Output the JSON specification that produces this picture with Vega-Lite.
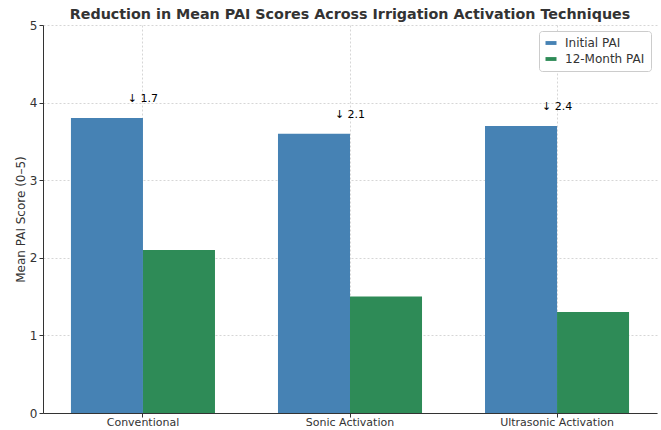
{
  "$schema": "https://vega.github.io/schema/vega-lite/v6.json",
  "width": 614,
  "height": 388,
  "autosize": {"type": "none"},
  "padding": {"left": 43, "top": 25, "right": 4, "bottom": 17},
  "background": "white",
  "config": {
    "view": {"stroke": null},
    "font": "DejaVu Sans",
    "axis": {
      "labelFont": "DejaVu Sans",
      "titleFont": "DejaVu Sans",
      "labelColor": "#333333",
      "titleColor": "#333333",
      "domainColor": "#333333",
      "tickColor": "#333333",
      "gridColor": "#cccccc",
      "gridDash": [2, 2],
      "gridWidth": 0.8,
      "tickSize": 4,
      "titleFontWeight": "normal"
    }
  },
  "title": {
    "text": "Reduction in Mean PAI Scores Across Irrigation Activation Techniques",
    "font": "DejaVu Sans",
    "fontSize": 14.3,
    "fontWeight": "bold",
    "color": "#333333",
    "anchor": "middle",
    "offset": -3
  },
  "data": {
    "values": [
      {"technique": "Conventional", "Initial PAI": 3.8, "12-Month PAI": 2.1, "label": "↓ 1.7"},
      {"technique": "Sonic Activation", "Initial PAI": 3.6, "12-Month PAI": 1.5, "label": "↓ 2.1"},
      {"technique": "Ultrasonic Activation", "Initial PAI": 3.7, "12-Month PAI": 1.3, "label": "↓ 2.4"}
    ]
  },
  "layer": [
    {
      "transform": [{"fold": ["Initial PAI", "12-Month PAI"], "as": ["measure", "value"]}],
      "mark": {"type": "bar"},
      "encoding": {
        "x": {
          "field": "technique",
          "type": "nominal",
          "sort": null,
          "scale": {"paddingInner": 0.3043, "paddingOuter": 0.135},
          "axis": {
            "title": null,
            "labelAngle": 0,
            "labelFontSize": 11,
            "labelPadding": -1,
            "grid": true,
            "bandPosition": 0.5
          }
        },
        "xOffset": {
          "field": "measure",
          "type": "nominal",
          "sort": ["Initial PAI", "12-Month PAI"],
          "scale": {"paddingInner": 0, "paddingOuter": 0}
        },
        "y": {
          "field": "value",
          "type": "quantitative",
          "scale": {"domain": [0, 5]},
          "axis": {
            "title": "Mean PAI Score (0–5)",
            "titleFontSize": 12,
            "labelFontSize": 12,
            "tickCount": 5,
            "grid": true,
            "titlePadding": 2
          }
        },
        "color": {
          "field": "measure",
          "type": "nominal",
          "sort": ["Initial PAI", "12-Month PAI"],
          "scale": {"domain": ["Initial PAI", "12-Month PAI"], "range": ["#4682b4", "#2e8b57"]},
          "legend": {
            "title": null,
            "orient": "top-right",
            "offset": 6,
            "padding": 6,
            "strokeColor": "#cccccc",
            "fillColor": "white",
            "cornerRadius": 3,
            "labelFont": "DejaVu Sans",
            "labelFontSize": 12,
            "labelColor": "#333333",
            "labelOffset": 8,
            "symbolType": "M-1,-0.35H1V0.35H-1Z",
            "symbolSize": 121,
            "symbolStrokeWidth": 0,
            "symbolOpacity": 1,
            "rowPadding": 4
          }
        }
      }
    },
    {
      "mark": {"type": "text", "baseline": "bottom", "dy": -14, "fontSize": 11, "font": "DejaVu Sans", "color": "black"},
      "encoding": {
        "x": {"field": "technique", "type": "nominal", "sort": null},
        "y": {"field": "Initial PAI", "type": "quantitative"},
        "text": {"field": "label"}
      }
    }
  ]
}
